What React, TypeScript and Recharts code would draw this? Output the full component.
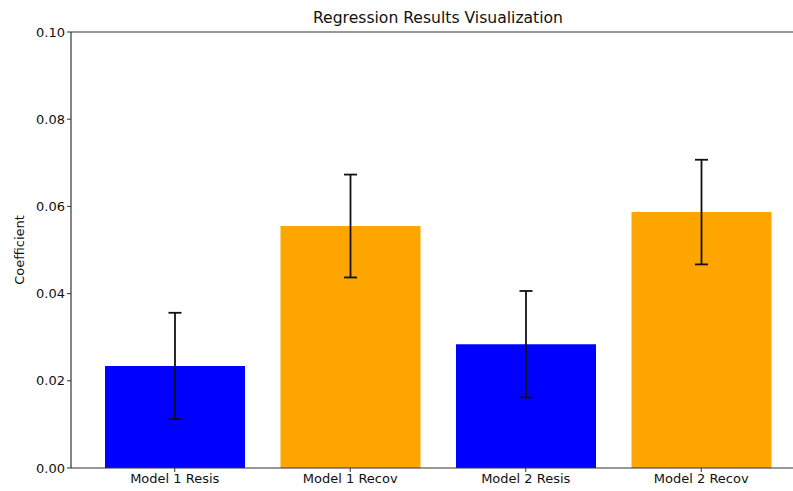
import React from "react";
import { BarChart, Bar, XAxis, YAxis, ErrorBar, Cell, ReferenceLine } from "recharts";

const categories = ["Model 1 Resis", "Model 1 Recov", "Model 2 Resis", "Model 2 Recov"];
const coefficients = [0.0234, 0.0555, 0.0284, 0.0587];
const errors = [0.0122, 0.0118, 0.0122, 0.012];
const barColors = ["#0000FF", "#FFA500", "#0000FF", "#FFA500"];
const yTicks = [0, 0.02, 0.04, 0.06, 0.08, 0.1];

const data = categories.map((name, i) => ({ name, value: coefficients[i], err: errors[i] }));

const font = "DejaVu Sans, sans-serif";

export default function App() {
  return (
    <div style={{ position: "absolute", left: 0, top: 0, width: 793, height: 491, overflow: "hidden", background: "#fff" }}>
      <svg width={793} height={40} style={{ position: "absolute", left: 0, top: 0 }}>
        <text x={438} y={23} textAnchor="middle" fontFamily={font} fontSize={15.6} fill="#111">
          Regression Results Visualization
        </text>
      </svg>
      <div style={{ position: "absolute", left: 0, top: 0 }}>
        <BarChart
          width={810}
          height={491}
          data={data}
          margin={{ top: 32, right: 7, bottom: 0, left: 11 }}
          barCategoryGap="20%"
        >
          <XAxis
            dataKey="name"
            height={23}
            padding={{ left: 16, right: 14 }}
            axisLine={{ stroke: "#333", strokeWidth: 1.2 }}
            tickLine={{ stroke: "#333" }}
            tickSize={4}
            tick={{ fontFamily: font, fontSize: 13, fill: "#111" }}
            interval={0}
          />
          <YAxis
            width={60}
            domain={[0, 0.1]}
            ticks={yTicks}
            allowDataOverflow
            tickFormatter={(v: number) => v.toFixed(2)}
            axisLine={{ stroke: "#333", strokeWidth: 1.2 }}
            tickLine={{ stroke: "#333" }}
            tickSize={4}
            tick={{ fontFamily: font, fontSize: 13, fill: "#111" }}
            label={{ value: "Coefficient", angle: -90, position: "insideLeft", offset: 8, style: { fontFamily: font, fontSize: 13, fill: "#111", textAnchor: "middle" } }}
          />
          <ReferenceLine y={0.1} stroke="#333" strokeWidth={1.2} ifOverflow="visible" />
          <Bar dataKey="value" barSize={140} isAnimationActive={false}>
            {data.map((d, i) => (
              <Cell key={d.name} fill={barColors[i]} />
            ))}
            <ErrorBar dataKey="err" width={6.5} stroke="#111" strokeWidth={1.8} />
          </Bar>
        </BarChart>
      </div>
    </div>
  );
}
